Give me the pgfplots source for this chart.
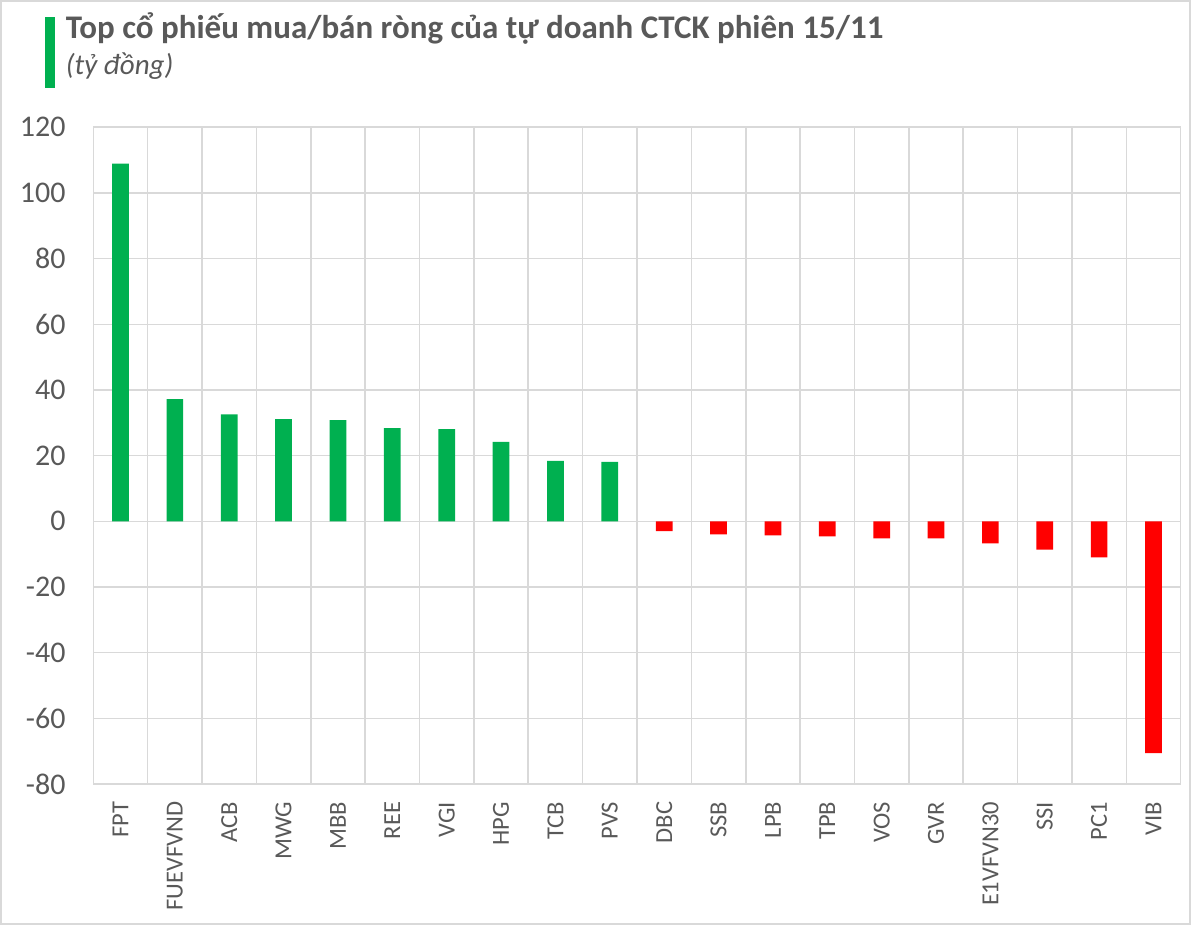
\documentclass[border=0pt]{standalone}
\usepackage{fontspec}
\setmainfont{Carlito}
\usepackage{pgfplots}
\pgfplotsset{compat=1.18}
\definecolor{txtgray}{HTML}{595959}
\definecolor{gridgray}{HTML}{D9D9D9}
\definecolor{barpos}{HTML}{00B050}
\definecolor{barneg}{HTML}{FF0000}
\begin{document}
\begin{tikzpicture}[x=1pt,y=1pt]
\path[use as bounding box] (0,0) rectangle (1191,925);
\draw[gridgray, line width=2pt] (1,1) rectangle (1190,924);
\fill[barpos] (45,837.3) rectangle (55,908.3);
\node[anchor=base west, inner sep=0pt, text=txtgray, font=\fontsize{33}{38}\selectfont\bfseries] at (65.7,886) {Top cổ phiếu mua/bán ròng của tự doanh CTCK phiên 15/11};
\node[anchor=base west, inner sep=0pt, text=txtgray, font=\fontsize{29}{34}\selectfont\itshape] at (65.7,850) {(tỷ đồng)};
\begin{axis}[
  at={(93.3pt,141pt)}, anchor=south west,
  width=1087.4pt, height=656.7pt, scale only axis,
  xmin=-0.5, xmax=19.5, ymin=-80, ymax=120,
  axis line style={draw=none},
  xtick={0,...,19},
  xticklabels={FPT,FUEVFVND,ACB,MWG,MBB,REE,VGI,HPG,TCB,PVS,DBC,SSB,LPB,TPB,VOS,GVR,E1VFVN30,SSI,PC1,VIB},
  minor xtick={-0.5,0.5,...,19.5},
  ytick={-80,-60,...,120},
  major tick length=0pt, minor tick length=0pt,
  ymajorgrids, xminorgrids,
  grid style={gridgray, line width=1.6pt},
  minor grid style={gridgray, line width=1.6pt},
  /pgf/number format/assume math mode=true,
  yticklabel style={anchor=east, inner sep=0pt, xshift=-27.6pt, text=txtgray, font=\fontsize{30}{35}\selectfont},
  xticklabel style={yshift=-17.7pt, rotate=90, anchor=east, inner sep=0pt, text=txtgray, font=\fontsize{24.5}{29}\selectfont},
  ybar, bar width=16.7pt, bar shift=0pt,
]
\addplot[draw=none, fill=barpos] coordinates {(0,108.9)(1,37.2)(2,32.6)(3,31.1)(4,30.8)(5,28.4)(6,28.1)(7,24.2)(8,18.4)(9,18.1)};
\addplot[draw=none, fill=barneg] coordinates {(10,-3.0)(11,-4.0)(12,-4.3)(13,-4.6)(14,-5.2)(15,-5.2)(16,-6.7)(17,-8.6)(18,-11.0)(19,-70.6)};
\end{axis}
\end{tikzpicture}
\end{document}
